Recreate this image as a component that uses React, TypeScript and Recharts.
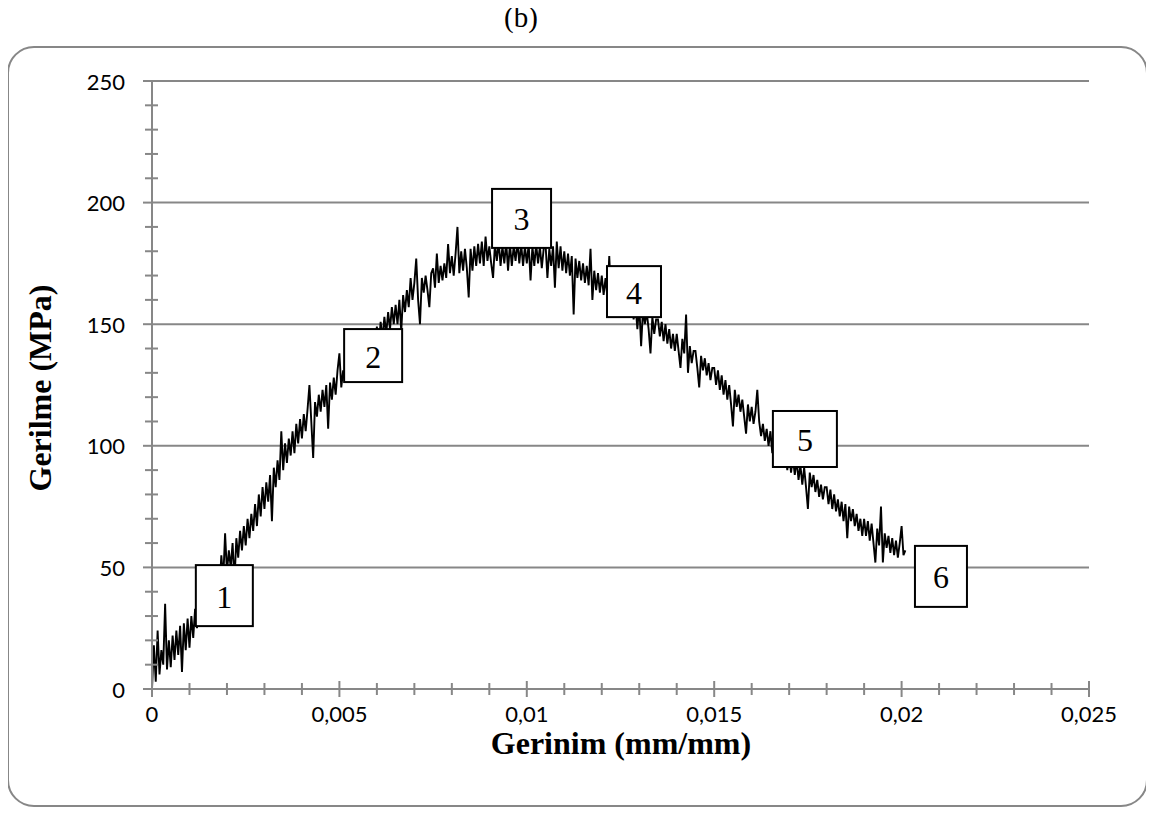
import React from "react";
import { CartesianGrid, Line, LineChart, ReferenceDot, XAxis, YAxis } from "recharts";

// strain (mm/mm)
const strain = [
  0, 0.00005, 0.0001, 0.00015, 0.0002, 0.00025, 0.0003, 0.00035, 0.0004, 0.00045,
  0.0005, 0.00055, 0.0006, 0.00065, 0.0007, 0.00075, 0.0008, 0.00085, 0.0009, 0.00095,
  0.001, 0.00105, 0.0011, 0.00115, 0.0012, 0.00125, 0.0013, 0.00135, 0.0014, 0.00145,
  0.0015, 0.00155, 0.0016, 0.00165, 0.0017, 0.00175, 0.0018, 0.00185, 0.0019, 0.00195,
  0.002, 0.00205, 0.0021, 0.00215, 0.0022, 0.00225, 0.0023, 0.00235, 0.0024, 0.00245,
  0.0025, 0.00255, 0.0026, 0.00265, 0.0027, 0.00275, 0.0028, 0.00285, 0.0029, 0.00295,
  0.003, 0.00305, 0.0031, 0.00315, 0.0032, 0.00325, 0.0033, 0.00335, 0.0034, 0.00345,
  0.0035, 0.00355, 0.0036, 0.00365, 0.0037, 0.00375, 0.0038, 0.00385, 0.0039, 0.00395,
  0.004, 0.00405, 0.0041, 0.00415, 0.0042, 0.00425, 0.0043, 0.00435, 0.0044, 0.00445,
  0.0045, 0.00455, 0.0046, 0.00465, 0.0047, 0.00475, 0.0048, 0.00485, 0.0049, 0.00495,
  0.005, 0.00505, 0.0051, 0.00515, 0.0052, 0.00525, 0.0053, 0.00535, 0.0054, 0.00545,
  0.0055, 0.00555, 0.0056, 0.00565, 0.0057, 0.00575, 0.0058, 0.00585, 0.0059, 0.00595,
  0.006, 0.00605, 0.0061, 0.00615, 0.0062, 0.00625, 0.0063, 0.00635, 0.0064, 0.00645,
  0.0065, 0.00655, 0.0066, 0.00665, 0.0067, 0.00675, 0.0068, 0.00685, 0.0069, 0.00695,
  0.007, 0.00705, 0.0071, 0.00715, 0.0072, 0.00725, 0.0073, 0.00735, 0.0074, 0.00745,
  0.0075, 0.00755, 0.0076, 0.00765, 0.0077, 0.00775, 0.0078, 0.00785, 0.0079, 0.00795,
  0.008, 0.00805, 0.0081, 0.00815, 0.0082, 0.00825, 0.0083, 0.00835, 0.0084, 0.00845,
  0.0085, 0.00855, 0.0086, 0.00865, 0.0087, 0.00875, 0.0088, 0.00885, 0.0089, 0.00895,
  0.009, 0.00905, 0.0091, 0.00915, 0.0092, 0.00925, 0.0093, 0.00935, 0.0094, 0.00945,
  0.0095, 0.00955, 0.0096, 0.00965, 0.0097, 0.00975, 0.0098, 0.00985, 0.0099, 0.00995,
  0.01, 0.01005, 0.0101, 0.01015, 0.0102, 0.01025, 0.0103, 0.01035, 0.0104, 0.01045,
  0.0105, 0.01055, 0.0106, 0.01065, 0.0107, 0.01075, 0.0108, 0.01085, 0.0109, 0.01095,
  0.011, 0.01105, 0.0111, 0.01115, 0.0112, 0.01125, 0.0113, 0.01135, 0.0114, 0.01145,
  0.0115, 0.01155, 0.0116, 0.01165, 0.0117, 0.01175, 0.0118, 0.01185, 0.0119, 0.01195,
  0.012, 0.01205, 0.0121, 0.01215, 0.0122, 0.01225, 0.0123, 0.01235, 0.0124, 0.01245,
  0.0125, 0.01255, 0.0126, 0.01265, 0.0127, 0.01275, 0.0128, 0.01285, 0.0129, 0.01295,
  0.013, 0.01305, 0.0131, 0.01315, 0.0132, 0.01325, 0.0133, 0.01335, 0.0134, 0.01345,
  0.0135, 0.01355, 0.0136, 0.01365, 0.0137, 0.01375, 0.0138, 0.01385, 0.0139, 0.01395,
  0.014, 0.01405, 0.0141, 0.01415, 0.0142, 0.01425, 0.0143, 0.01435, 0.0144, 0.01445,
  0.0145, 0.01455, 0.0146, 0.01465, 0.0147, 0.01475, 0.0148, 0.01485, 0.0149, 0.01495,
  0.015, 0.01505, 0.0151, 0.01515, 0.0152, 0.01525, 0.0153, 0.01535, 0.0154, 0.01545,
  0.0155, 0.01555, 0.0156, 0.01565, 0.0157, 0.01575, 0.0158, 0.01585, 0.0159, 0.01595,
  0.016, 0.01605, 0.0161, 0.01615, 0.0162, 0.01625, 0.0163, 0.01635, 0.0164, 0.01645,
  0.0165, 0.01655, 0.0166, 0.01665, 0.0167, 0.01675, 0.0168, 0.01685, 0.0169, 0.01695,
  0.017, 0.01705, 0.0171, 0.01715, 0.0172, 0.01725, 0.0173, 0.01735, 0.0174, 0.01745,
  0.0175, 0.01755, 0.0176, 0.01765, 0.0177, 0.01775, 0.0178, 0.01785, 0.0179, 0.01795,
  0.018, 0.01805, 0.0181, 0.01815, 0.0182, 0.01825, 0.0183, 0.01835, 0.0184, 0.01845,
  0.0185, 0.01855, 0.0186, 0.01865, 0.0187, 0.01875, 0.0188, 0.01885, 0.0189, 0.01895,
  0.019, 0.01905, 0.0191, 0.01915, 0.0192, 0.01925, 0.0193, 0.01935, 0.0194, 0.01945,
  0.0195, 0.01955, 0.0196, 0.01965, 0.0197, 0.01975, 0.0198, 0.01985, 0.0199, 0.01995,
  0.02, 0.02005, 0.0201,
];

// stress (MPa)
const stress = [
  0, 18, 3, 24, 6, 16, 10, 35, 8, 20,
  9, 22, 12, 24, 14, 26, 7, 27, 16, 29,
  17, 30, 21, 33, 25, 37, 27, 40, 31, 42,
  33, 45, 36, 47, 38, 51, 41, 55, 45, 64,
  48, 57, 50, 60, 44, 62, 54, 65, 57, 67,
  59, 70, 62, 72, 65, 76, 67, 80, 71, 83,
  74, 85, 77, 88, 69, 91, 83, 94, 86, 106,
  90, 101, 93, 103, 96, 106, 97, 109, 101, 111,
  103, 113, 106, 115, 125, 110, 95, 118, 112, 121,
  114, 123, 116, 125, 107, 126, 119, 128, 121, 131,
  138, 124, 131, 126, 133, 127, 134, 129, 136, 130,
  139, 131, 141, 133, 143, 136, 145, 138, 147, 140,
  149, 141, 151, 144, 153, 146, 155, 148, 157, 150,
  158, 150, 160, 147, 162, 155, 164, 157, 169, 160,
  167, 177, 160, 150, 169, 163, 170, 164, 157, 171,
  173, 165, 179, 167, 174, 168, 175, 169, 183, 171,
  178, 170, 179, 190, 171, 180, 172, 181, 173, 161,
  181, 172, 182, 174, 183, 175, 184, 174, 186, 176,
  182, 175, 169, 183, 176, 184, 174, 182, 175, 184,
  172, 183, 174, 182, 176, 184, 175, 183, 174, 182,
  175, 183, 168, 182, 174, 183, 175, 182, 173, 181,
  183, 169, 181, 174, 182, 165, 184, 173, 182, 172,
  180, 171, 179, 170, 178, 154, 177, 169, 176, 168,
  175, 167, 174, 166, 181, 160, 172, 164, 171, 163,
  170, 162, 169, 161, 178, 160, 167, 158, 165, 157,
  164, 156, 163, 155, 161, 153, 160, 152, 158, 148,
  158, 141, 156, 150, 155, 148, 138, 153, 146, 152,
  152, 145, 151, 143, 150, 142, 148, 140, 146, 139,
  146, 139, 132, 144, 138, 154, 130, 141, 134, 139,
  139, 132, 124, 137, 131, 136, 129, 134, 127, 132,
  132, 125, 131, 123, 129, 121, 127, 119, 125, 117,
  108, 123, 116, 121, 114, 119, 112, 105, 117, 110,
  116, 109, 114, 123, 110, 104, 109, 102, 107, 100,
  106, 97, 104, 96, 102, 94, 100, 92, 98, 90,
  97, 89, 95, 88, 94, 86, 92, 84, 91, 83,
  74, 89, 83, 88, 81, 86, 79, 84, 78, 83,
  83, 76, 82, 74, 80, 73, 78, 71, 77, 69,
  76, 62, 75, 69, 74, 67, 72, 65, 70, 63,
  70, 63, 69, 61, 68, 60, 52, 66, 59, 75,
  52, 64, 58, 63, 56, 62, 55, 61, 54, 60,
  67, 55, 57,
];

const xTicks = [
  0, 0.001, 0.002, 0.003, 0.004, 0.005, 0.006, 0.007, 0.008, 0.009, 0.01, 0.011, 0.012,
  0.013, 0.014, 0.015, 0.016, 0.017, 0.018, 0.019, 0.02, 0.021, 0.022, 0.023, 0.024, 0.025,
];
const xMajor = [0, 0.005, 0.01, 0.015, 0.02, 0.025];
const xTickLabels = ["0", "0,005", "0,01", "0,015", "0,02", "0,025"];

const yTicks = [
  0, 10, 20, 30, 40, 50, 60, 70, 80, 90, 100, 110, 120, 130, 140, 150, 160, 170, 180, 190,
  200, 210, 220, 230, 240, 250,
];
const yMajor = [0, 50, 100, 150, 200, 250];
const gridValues = [50, 100, 150, 200, 250];

// numbered callouts on the curve
const markerLabels = ["1", "2", "3", "4", "5", "6"];
const markerStrain = [0.00193, 0.0059, 0.00986, 0.01286, 0.01742, 0.02105];
const markerStress = [38.4, 137.1, 193.5, 163.4, 102.8, 46.3];

const boxSizes = [
  [57, 61],
  [58, 53],
  [59, 59],
  [54, 51],
  [64, 56],
  [52, 61],
];

const axisGray = "#878787";
const serif = '"Liberation Serif", "Times New Roman", serif';
const sans = 'Lato, "Open Sans", sans-serif';

const chartData = strain.map((s, i) => ({ s, v: stress[i] }));

const findIdx = (arr: number[], v: number) => arr.findIndex((m) => Math.abs(m - v) < 1e-9);

const XTick = (props: any) => {
  const { x, y, payload } = props;
  const idx = findIdx(xMajor, payload.value);
  const len = idx >= 0 ? 8 : 6;
  return (
    <g>
      <line x1={x} x2={x} y1={y - len} y2={y + len} stroke={axisGray} strokeWidth={2} />
      {idx >= 0 && (
        <text
          x={x}
          y={y + 24}
          textAnchor="middle"
          dominantBaseline="central"
          fontFamily={sans}
          fontSize={22}
          fill="#000"
        >
          {xTickLabels[idx]}
        </text>
      )}
    </g>
  );
};

const YTick = (props: any) => {
  const { x, y, payload } = props;
  const idx = findIdx(yMajor, payload.value);
  return (
    <g>
      {idx >= 0 ? (
        <line x1={x - 9} x2={x} y1={y} y2={y} stroke={axisGray} strokeWidth={2} />
      ) : (
        <line x1={x - 7} x2={x + 6} y1={y} y2={y} stroke={axisGray} strokeWidth={2} />
      )}
      {idx >= 0 && (
        <text
          x={x - 27}
          y={y}
          textAnchor="end"
          dominantBaseline="central"
          fontFamily={sans}
          fontSize={22}
          fill="#000"
        >
          {payload.value}
        </text>
      )}
    </g>
  );
};

const markerShape = (i: number) => (p: any) => {
  const [w, h] = boxSizes[i];
  return (
    <g>
      <rect
        x={p.cx - w / 2}
        y={p.cy - h / 2}
        width={w}
        height={h}
        fill="#fff"
        stroke="#000"
        strokeWidth={2}
      />
      <text
        x={p.cx}
        y={p.cy + 1}
        textAnchor="middle"
        dominantBaseline="central"
        fontFamily={serif}
        fontSize={32}
        fill="#000"
      >
        {markerLabels[i]}
      </text>
    </g>
  );
};

export default function App() {
  return (
    <div style={{ position: "relative", width: 1154, height: 817, margin: -8, background: "#fff" }}>
      <svg width={1154} height={817} style={{ position: "absolute", left: 0, top: 0 }}>
        <rect x={8} y={47} width={1139} height={759} rx={26} fill="#fff" stroke={axisGray} strokeWidth={2} />
        <text x={521} y={17} textAnchor="middle" dominantBaseline="central" fontFamily={serif} fontSize={29}>
          (b)
        </text>
        <text
          x={621}
          y={743}
          textAnchor="middle"
          dominantBaseline="central"
          fontFamily={serif}
          fontWeight="bold"
          fontSize={32}
        >
          Gerinim (mm/mm)
        </text>
        <text
          x={0}
          y={0}
          transform="translate(40 388) rotate(-90)"
          textAnchor="middle"
          dominantBaseline="central"
          fontFamily={serif}
          fontWeight="bold"
          fontSize={32}
        >
          Gerilme (MPa)
        </text>
      </svg>
      <div style={{ position: "absolute", left: 0, top: 0 }}>
        <LineChart
          width={1154}
          height={817}
          data={chartData}
          margin={{ top: 81, right: 65, bottom: 0, left: 0 }}
        >
          <CartesianGrid
            vertical={false}
            horizontalValues={gridValues}
            stroke={axisGray}
            strokeWidth={2}
          />
          <XAxis
            dataKey="s"
            type="number"
            domain={[0, 0.025]}
            ticks={xTicks}
            interval={0}
            height={128}
            tickSize={0}
            tickMargin={0}
            tickLine={false}
            axisLine={{ stroke: axisGray, strokeWidth: 2 }}
            tick={<XTick />}
          />
          <YAxis
            type="number"
            domain={[0, 250]}
            ticks={yTicks}
            interval={0}
            width={152}
            tickSize={0}
            tickMargin={0}
            tickLine={false}
            axisLine={{ stroke: axisGray, strokeWidth: 2 }}
            tick={<YTick />}
          />
          <Line
            type="linear"
            dataKey="v"
            stroke="#000"
            strokeWidth={1.9}
            dot={false}
            isAnimationActive={false}
          />
          {markerLabels.map((lab, i) => (
            <ReferenceDot
              key={lab}
              x={markerStrain[i]}
              y={markerStress[i]}
              ifOverflow="visible"
              shape={markerShape(i)}
            />
          ))}
        </LineChart>
      </div>
    </div>
  );
}
